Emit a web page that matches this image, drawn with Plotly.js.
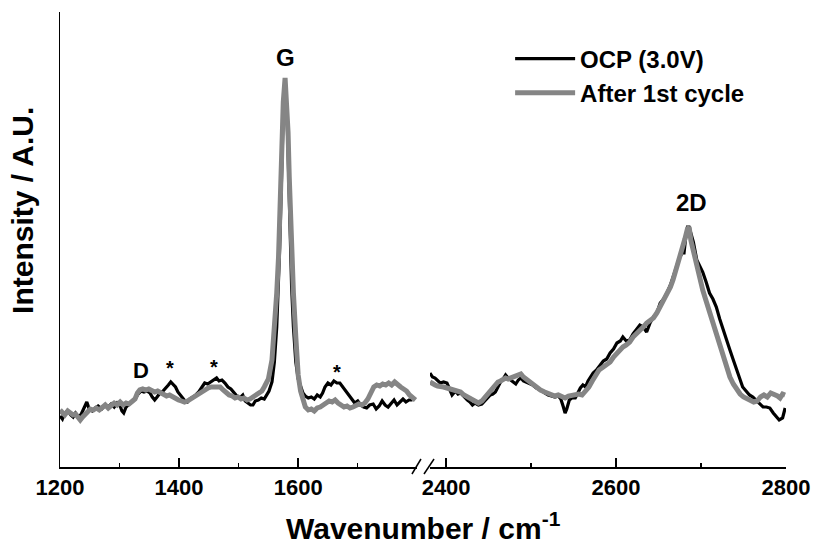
<!DOCTYPE html>
<html>
<head>
<meta charset="utf-8">
<script src="https://cdn.plot.ly/plotly-3.0.1.min.js"></script>
<style>html,body{margin:0;padding:0;background:#fff;}#chart{width:814px;height:544px;}</style>
</head>
<body>
<div id="chart"></div>
<script>
// ---- Data (wavenumber in cm^-1, intensity in arbitrary units) ----
var seriesNames = ["OCP (3.0V)", "After 1st cycle"];

// Tick values
var lowTicks = [1200, 1400, 1600];
var lowMinorTicks = [1300, 1500, 1700];
var highTicks = [2400, 2600, 2800];
var highMinorTicks = [2500, 2700];

// Low-wavenumber window (D / G region)
var ocpLowX = [1200,1204,1208,1213,1218,1222,1226,1230,1235,1240,1245,1249,1254,1259,1264,1270,1276,1281,1286,1291,1296,1301,1304,1307,1311,1316,1321,1326,1331,1336,1341,1346,1351,1355,1359,1363,1368,1373,1378,1382,1386,1390,1394,1398,1402,1406,1410,1414,1418,1423,1428,1433,1438,1443,1448,1453,1458,1463,1467,1472,1477,1482,1487,1492,1497,1502,1507,1511,1515,1520,1524,1528,1533,1538,1543,1547,1551,1556,1560,1564,1567,1569,1571,1573,1575,1578,1581,1583,1585,1587,1589,1592,1596,1600,1604,1608,1612,1617,1622,1627,1632,1637,1641,1645,1650,1655,1660,1665,1670,1675,1680,1685,1690,1695,1700,1705,1710,1715,1720,1726,1731,1736,1741,1746,1751,1756,1761,1766,1771,1776,1781,1786,1792];
var ocpLowY = [51,48,54,56,52,50,54,51,52,58,65,58,56,59,61,58,62,60,63,60,64,61,56,54,60,63,65,68,73,76,75,76,74,70,67,70,74,76,79,82,85,82,80,75,72,69,66,65,68,70,72,75,80,84,83,85,87,89,86,87,84,80,78,74,71,69,72,66,64,62,62,66,67,69,68,72,76,85,105,140,180,220,265,315,355,384,355,315,265,220,180,140,105,88,80,74,71,69,70,68,72,70,74,80,84,82,86,84,84,80,77,72,68,64,66,62,60,59,62,63,58,61,66,62,60,64,67,62,65,68,65,67,67];

var cycLowX = [1200,1204,1208,1213,1218,1222,1226,1230,1234,1238,1242,1246,1251,1256,1261,1266,1271,1276,1281,1286,1291,1296,1301,1306,1311,1316,1321,1326,1330,1334,1339,1344,1349,1354,1359,1364,1369,1374,1379,1384,1389,1394,1399,1404,1409,1414,1419,1424,1429,1434,1439,1444,1449,1454,1459,1464,1469,1474,1479,1484,1489,1494,1499,1504,1509,1514,1519,1524,1529,1534,1539,1543,1547,1550,1556,1560,1564,1567,1569,1571,1573,1575,1578,1581,1583,1585,1587,1589,1592,1596,1600,1604,1608,1612,1617,1622,1627,1632,1637,1642,1647,1652,1657,1662,1667,1672,1677,1682,1687,1692,1697,1702,1707,1712,1717,1722,1727,1732,1737,1742,1747,1752,1757,1762,1767,1772,1777,1782,1787,1793,1797];
var cycLowY = [57,55,52,56,54,52,53,49,47,50,53,55,58,57,59,57,60,62,59,61,64,62,65,62,64,63,66,68,74,77,78,77,78,76,75,76,74,73,71,72,70,68,67,66,65,66,68,70,72,73,75,77,79,80,80,79,80,77,74,72,71,69,70,68,69,67,68,70,71,73,76,80,84,88,107,135,174,210,250,290,335,365,389,365,335,290,250,210,174,130,92,76,66,60,57,58,56,59,60,62,64,66,65,67,64,62,60,61,59,60,62,63,62,64,68,74,80,82,81,83,82,84,82,85,82,80,78,76,72,68,67];

// High-wavenumber window (2D region)
var ocpHighX = [2381,2384,2387,2390,2393,2397,2401,2404,2407,2411,2414,2417,2421,2425,2428,2431,2434,2438,2442,2446,2449,2452,2455,2458,2461,2464,2467,2470,2473,2476,2479,2482,2485,2488,2491,2494,2498,2502,2506,2511,2516,2520,2524,2528,2532,2535,2538,2540,2542,2545,2548,2552,2555,2558,2561,2564,2567,2570,2573,2577,2581,2585,2589,2593,2597,2601,2605,2608,2612,2616,2620,2624,2628,2632,2636,2640,2644,2648,2652,2656,2660,2664,2667,2671,2675,2678,2680,2682,2684,2686,2688,2691,2695,2699,2702,2706,2710,2714,2718,2722,2726,2730,2734,2738,2742,2746,2749,2753,2757,2761,2765,2769,2773,2777,2781,2785,2789,2792,2796,2799];
var ocpHighY = [94,90,89,86,84,85,84,78,72,76,73,74,70,67,65,62,64,62,63,67,70,72,73,75,80,85,88,92,89,87,86,83,87,89,86,85,83,82,79,77,74,72,71,70,71,68,60,54,58,67,69,69,74,79,82,80,86,90,94,97,102,106,108,114,118,124,126,130,126,127,133,138,142,140,135,144,150,154,164,168,174,182,190,200,210,214,214,230,240,240,234,225,207,200,195,185,174,168,160,148,137,127,117,107,97,88,80,76,72,70,67,64,60,60,59,54,50,47,49,59];

var cycHighX = [2381,2384,2387,2390,2393,2397,2401,2404,2407,2411,2414,2417,2421,2425,2428,2431,2434,2438,2442,2446,2449,2452,2455,2458,2461,2464,2467,2470,2473,2476,2479,2482,2485,2488,2491,2494,2498,2502,2506,2511,2516,2520,2524,2528,2532,2536,2540,2544,2548,2552,2556,2560,2564,2568,2572,2576,2580,2585,2589,2593,2597,2601,2605,2608,2612,2616,2620,2624,2628,2632,2636,2640,2644,2648,2652,2656,2660,2664,2667,2671,2675,2678,2681,2684,2686,2688,2691,2695,2699,2702,2706,2710,2714,2718,2722,2726,2730,2734,2738,2742,2746,2750,2754,2758,2762,2766,2770,2774,2778,2782,2786,2790,2793,2796,2799];
var cycHighY = [85,83,82,81,81,80,79,78,77,76,75,75,72,70,68,67,65,64,66,70,73,77,80,82,85,86,88,89,88,89,90,90,92,93,90,88,86,84,81,77,75,74,72,71,72,70,69,71,72,72,73,72,76,80,86,92,97,100,103,105,110,114,117,120,122,125,130,133,137,140,144,146,149,154,160,166,172,180,187,198,209,218,228,238,240,227,215,200,188,177,166,155,145,134,122,110,98,90,83,77,73,70,68,67,65,66,70,72,70,74,73,71,69,73,72];

var ocpColor = "#000000";
var cycColor = "#858585";

var FONT = "Liberation Sans, Arial, sans-serif";

var traces = [
  {x: ocpLowX, y: ocpLowY, xaxis: "x", yaxis: "y", type: "scatter", mode: "lines",
   name: seriesNames[0], legendgroup: "ocp", line: {color: ocpColor, width: 3.2}},
  {x: cycLowX, y: cycLowY, xaxis: "x", yaxis: "y", type: "scatter", mode: "lines",
   name: seriesNames[1], legendgroup: "cyc", line: {color: cycColor, width: 5}},
  {x: ocpHighX, y: ocpHighY, xaxis: "x2", yaxis: "y", type: "scatter", mode: "lines",
   name: seriesNames[0], legendgroup: "ocp", showlegend: false, line: {color: ocpColor, width: 3.2}},
  {x: cycHighX, y: cycHighY, xaxis: "x2", yaxis: "y", type: "scatter", mode: "lines",
   name: seriesNames[1], legendgroup: "cyc", showlegend: false, line: {color: cycColor, width: 5}}
];

var tickFont = {family: FONT, size: 22, color: "#000", weight: 700};
function makeAxis(ticks, minorTicks) {
  return {
    showline: true, linecolor: "#000", linewidth: 1.5, showgrid: false, zeroline: false,
    ticks: "inside", ticklen: 9, tickwidth: 1.5, tickcolor: "#000", tickfont: tickFont,
    tickmode: "array", tickvals: ticks, ticktext: ticks.map(String),
    minor: {ticks: "inside", ticklen: 4, tickwidth: 1.5, tickcolor: "#000",
            tickmode: "array", tickvals: minorTicks, showgrid: false}
  };
}

var layout = {
  width: 814, height: 544,
  margin: {l: 60, r: 28, t: 12, b: 77},
  paper_bgcolor: "#fff", plot_bgcolor: "#fff",
  showlegend: true,
  legend: {x: 0.62, y: 0.946, xanchor: "left", yanchor: "top", bgcolor: "rgba(0,0,0,0)",
           font: {family: FONT, size: 24, color: "#000", weight: 700}, itemwidth: 60,
           tracegroupgap: 0},
  xaxis: Object.assign(makeAxis(lowTicks, lowMinorTicks), {domain: [0, 0.4917], range: [1200, 1799.5], anchor: "y"}),
  xaxis2: Object.assign(makeAxis(highTicks, highMinorTicks), {domain: [0.5096, 1], range: [2381, 2800], anchor: "y"}),
  yaxis: {range: [0, 455], showline: true, linecolor: "#000", linewidth: 1.5, showgrid: false,
          zeroline: false, ticks: "", showticklabels: false, anchor: "x"},
  shapes: [
    {type: "line", xref: "paper", yref: "paper", x0: 0.4848, y0: -0.0154, x1: 0.4972, y1: 0.0176, line: {color: "#000", width: 1.5}},
    {type: "line", xref: "paper", yref: "paper", x0: 0.5014, y0: -0.0154, x1: 0.5152, y1: 0.0176, line: {color: "#000", width: 1.5}}
  ],
  annotations: [
    {text: "Wavenumber / cm<sup>-1</sup>", xref: "paper", yref: "paper", x: 0.5, y: -0.13,
     xanchor: "center", yanchor: "middle", showarrow: false,
     font: {family: FONT, size: 30, color: "#000", weight: 700}},
    {text: "Intensity / A.U.", xref: "paper", yref: "paper", x: -0.051, y: 0.565, textangle: -90,
     xanchor: "center", yanchor: "middle", showarrow: false,
     font: {family: FONT, size: 30, color: "#000", weight: 700}},
    {text: "G", xref: "x", yref: "y", x: 1578, y: 410, showarrow: false,
     font: {family: FONT, size: 24, color: "#000", weight: 700}},
    {text: "D", xref: "x", yref: "y", x: 1336, y: 97, showarrow: false,
     font: {family: FONT, size: 22, color: "#000", weight: 700}},
    {text: "*", xref: "x", yref: "y", x: 1385, y: 99, showarrow: false,
     font: {family: FONT, size: 20, color: "#000", weight: 700}},
    {text: "*", xref: "x", yref: "y", x: 1459, y: 100, showarrow: false,
     font: {family: FONT, size: 20, color: "#000", weight: 700}},
    {text: "*", xref: "x", yref: "y", x: 1666, y: 95, showarrow: false,
     font: {family: FONT, size: 20, color: "#000", weight: 700}},
    {text: "2D", xref: "x2", yref: "y", x: 2689, y: 265, showarrow: false,
     font: {family: FONT, size: 24, color: "#000", weight: 700}}
  ]
};

Plotly.newPlot("chart", traces, layout, {displayModeBar: false, staticPlot: true});
</script>
</body>
</html>
